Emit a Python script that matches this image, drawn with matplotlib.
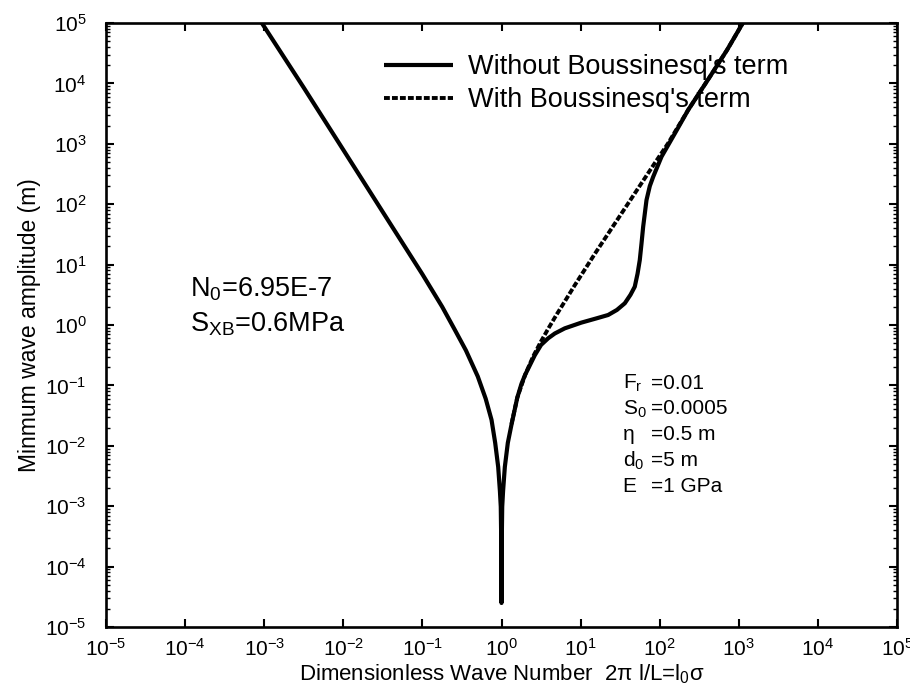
import numpy as np
import matplotlib
matplotlib.use("Agg")
import matplotlib.pyplot as plt
from matplotlib.ticker import LogLocator, NullLocator, FuncFormatter

plt.rcParams['font.family'] = ['Liberation Sans', 'DejaVu Sans']
plt.rcParams['mathtext.fontset'] = 'custom'
plt.rcParams['mathtext.rm'] = 'Liberation Sans'
plt.rcParams['mathtext.it'] = 'Liberation Sans:italic'

# dimensionless wave number and minimum amplitude, without Boussinesq's term
k_plain = [9.12e-4, 3.16e-3, 1.0e-2, 3.16e-2, 0.1, 0.178, 0.257, 0.355, 0.501,
           0.631, 0.748, 0.832, 0.908, 0.955, 0.979, 0.993, 1.0,
           1.007, 1.021, 1.047, 1.102, 1.202, 1.337, 1.585, 1.791, 1.995,
           2.636, 3.162, 3.89, 4.72, 6.31, 10.23, 15.85, 22.3, 28.8, 36.2,
           42.7, 48.4, 52.5, 56.0, 58.9, 61.8, 68.1, 75.0, 82.8, 105.4,
           155.2, 229.0, 407.0, 708.0, 1148.0]
amp_plain = [1.047e5, 8.51e3, 794.0, 74.1, 6.92, 2.0, 0.832, 0.380, 0.141,
             0.0603, 0.0269, 0.0112, 4.47e-3, 1.78e-3, 9.8e-4, 2.5e-4, 2.5e-5,
             2.5e-4, 9.8e-4, 1.78e-3, 4.47e-3, 0.0112, 0.0224, 0.0631, 0.107, 0.151,
             0.316, 0.468, 0.603, 0.724, 0.881, 1.096, 1.288, 1.466, 1.778, 2.29,
             3.16, 4.31, 7.08, 11.9, 22.4, 42.4, 117.0, 200.0, 285.0, 611.0,
             1479.0, 3631.0, 1.148e4, 3.55e4, 1.047e5]

# with Boussinesq's term (right branch, the left one coincides)
k_bous = [1.337, 1.585, 1.995, 2.512, 3.162, 3.981, 5.012, 6.31, 8.45, 15.14,
          27.1, 48.4, 86.7, 127.9, 229.0, 407.0, 708.0, 1148.0]
amp_bous = [0.0229, 0.0631, 0.151, 0.302, 0.537, 0.912, 1.514, 2.455, 4.57, 15.1,
            47.9, 151.0, 479.0, 1023.0, 3631.0, 1.148e4, 3.55e4, 1.047e5]

params_left = ["F$_\\mathrm{r}$", "S$_\\mathrm{0}$", "η", "d$_\\mathrm{0}$", "E"]
params_right = ["=0.01", "=0.0005", "=0.5 m", "=5 m", "=1 GPa"]

fig = plt.figure(figsize=(9.1, 6.95), dpi=100)
ax = fig.add_axes([0.1165, 0.0978, 0.8692, 0.8691])

ax.plot(k_bous, amp_bous, color='black', lw=2.8, linestyle=(0, (1.5, 0.55)),
        label="With Boussinesq's term", zorder=2)
ax.plot(k_plain, amp_plain, color='black', lw=3.0, solid_capstyle='butt',
        label="Without Boussinesq's term", zorder=3)

ax.set_xscale('log')
ax.set_yscale('log')
ax.set_xlim(1e-5, 1e5)
ax.set_ylim(1e-5, 1e5)

ax.xaxis.set_major_locator(LogLocator(base=10, numticks=20))
ax.xaxis.set_minor_locator(NullLocator())
ax.yaxis.set_major_locator(LogLocator(base=10, numticks=20))
ax.yaxis.set_minor_locator(LogLocator(base=10, subs=np.arange(2, 10), numticks=100))
fmt = FuncFormatter(lambda v, p: r'$\mathrm{10^{%d}}$' % int(round(np.log10(v))))
ax.xaxis.set_major_formatter(fmt)
ax.yaxis.set_major_formatter(fmt)

ax.tick_params(which='major', direction='in', length=6, width=1.5,
               top=True, right=True, labelsize=15)
ax.tick_params(which='minor', direction='in', length=3, width=1.0,
               top=False, right=True)
ax.tick_params(axis='y', pad=14)
ax.tick_params(axis='x', pad=8)
for s in ax.spines.values():
    s.set_linewidth(1.9)

ax.set_xlabel("Dimensionless Wave Number  2π l/L=l$_\\mathrm{0}$σ", fontsize=16, labelpad=2)
ax.set_ylabel("Minmum wave amplitude (m)", fontsize=16.5, labelpad=3)

handles, labels = ax.get_legend_handles_labels()
ax.legend(handles[::-1], labels[::-1], loc='upper left', bbox_to_anchor=(0.345, 0.957),
          frameon=False, fontsize=19.5, handlelength=2.55, handletextpad=0.55,
          labelspacing=0.25, borderpad=0.2, borderaxespad=0)

ax.text(0.106, 0.56, "N$_\\mathrm{0}$=6.95E-7", transform=ax.transAxes,
        fontsize=19.5, va='center', ha='left')
ax.text(0.106, 0.502, "S$_\\mathrm{XB}$=0.6MPa", transform=ax.transAxes,
        fontsize=19.5, va='center', ha='left')

for i, (a, b) in enumerate(zip(params_left, params_right)):
    y = 0.404 - i * 0.043
    ax.text(0.653, y, a, transform=ax.transAxes, fontsize=15, va='center', ha='left')
    ax.text(0.689, y, b, transform=ax.transAxes, fontsize=15, va='center', ha='left')

fig.savefig("out.png", dpi=100)
